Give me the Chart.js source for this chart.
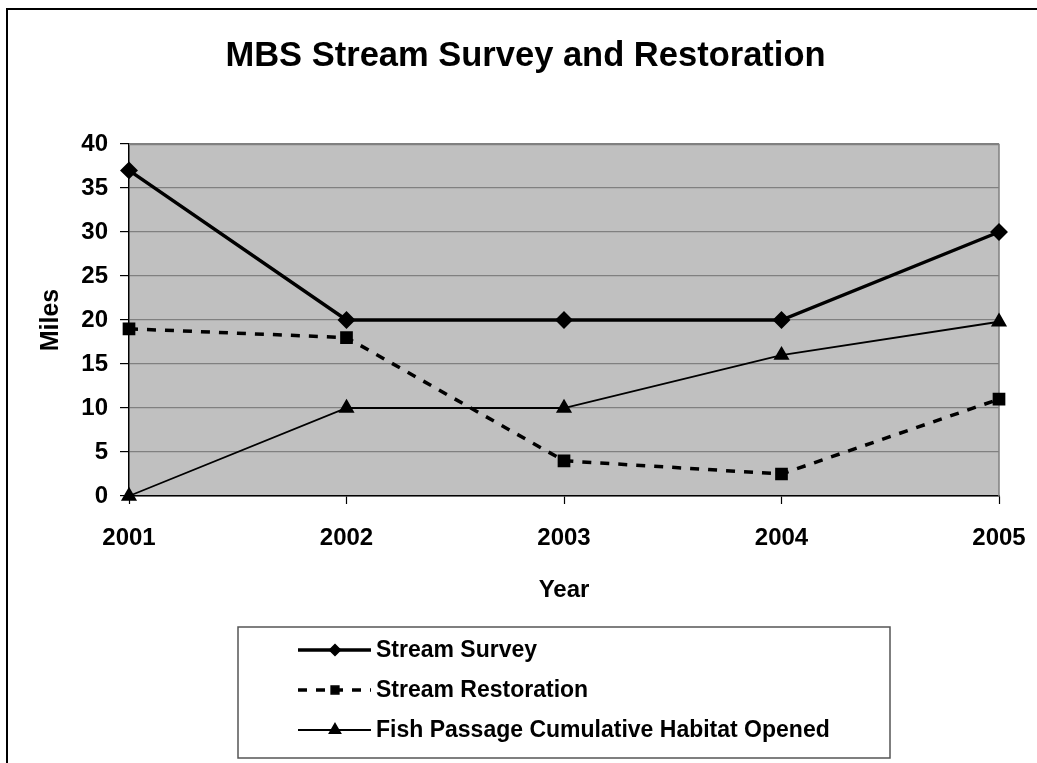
<!DOCTYPE html>
<html>
<head>
<meta charset="utf-8">
<script src="https://cdn.jsdelivr.net/npm/chart.js@4.4.1/dist/chart.umd.min.js"></script>
<style>
  html, body { margin: 0; padding: 0; background: #ffffff; }
  canvas { display: block; }
</style>
</head>
<body>
<canvas id="c" width="1037" height="763"></canvas>
<script>
const chartTitle = 'MBS Stream Survey and Restoration';
const years = ['2001', '2002', '2003', '2004', '2005'];
const streamSurvey = [37, 20, 20, 20, 30];
const streamRestoration = [19, 18, 4, 2.5, 11];
const fishPassage = [0, 10, 10, 16, 19.8];
const seriesNames = ['Stream Survey', 'Stream Restoration', 'Fish Passage Cumulative Habitat Opened'];
const yTitle = 'Miles';
const xTitle = 'Year';

const FONT = '"Liberation Sans", Arial, sans-serif';

const bgPlugin = {
  id: 'bgPlugin',
  beforeDraw(chart) {
    const { ctx, chartArea: a } = chart;
    ctx.save();
    ctx.fillStyle = '#ffffff';
    ctx.fillRect(0, 0, chart.width, chart.height);
    ctx.fillStyle = '#C0C0C0';
    ctx.fillRect(a.left, a.top, a.right - a.left, a.bottom - a.top);
    // outer frame
    ctx.strokeStyle = '#000000';
    ctx.lineWidth = 2;
    ctx.strokeRect(7, 9, chart.width + 20, chart.height + 20);
    // chart title
    ctx.fillStyle = '#000000';
    ctx.font = 'bold 34.5px ' + FONT;
    ctx.textAlign = 'center';
    ctx.textBaseline = 'middle';
    ctx.fillText(chartTitle, 525.5, 56);
    ctx.restore();
  },
  beforeDatasetsDraw(chart) {
    const { ctx, chartArea: a } = chart;
    ctx.save();
    ctx.strokeStyle = '#808080';
    ctx.lineWidth = 1.5;
    ctx.beginPath();
    ctx.moveTo(a.left, a.top + 0.5);
    ctx.lineTo(a.right, a.top + 0.5);
    ctx.lineTo(a.right, a.bottom);
    ctx.stroke();
    ctx.restore();
  }
};

const legendPlugin = {
  id: 'customLegend',
  afterDraw(chart) {
    const { ctx } = chart;
    ctx.save();
    ctx.strokeStyle = '#555555';
    ctx.lineWidth = 1.5;
    ctx.strokeRect(238, 627, 652, 131);
    const rowY = [650, 690, 730];
    const markerR = [5.5, 5.5, 6.5];
    chart.data.datasets.forEach((ds, i) => {
      const y = rowY[i];
      ctx.save();
      ctx.strokeStyle = ds.borderColor;
      ctx.lineWidth = ds.borderWidth;
      ctx.setLineDash(ds.borderDash || []);
      ctx.beginPath();
      ctx.moveTo(298, y);
      ctx.lineTo(371, y);
      ctx.stroke();
      ctx.restore();
      ctx.save();
      ctx.fillStyle = '#000000';
      ctx.strokeStyle = '#000000';
      ctx.setLineDash([]);
      Chart.helpers.drawPoint(ctx, {
        pointStyle: ds.pointStyle, radius: markerR[i], rotation: 0, borderWidth: 1
      }, 335, y);
      ctx.restore();
      ctx.fillStyle = '#000000';
      ctx.font = 'bold 23px ' + FONT;
      ctx.textBaseline = 'middle';
      ctx.textAlign = 'left';
      ctx.fillText(ds.label, 376, y + 1);
    });
    ctx.restore();
  }
};

Chart.defaults.font.family = FONT;
Chart.defaults.color = '#000000';

new Chart(document.getElementById('c'), {
  type: 'line',
  data: {
    labels: years,
    datasets: [
      {
        label: seriesNames[0], data: streamSurvey,
        borderColor: '#000000', backgroundColor: '#000000', borderWidth: 3.5,
        pointStyle: 'rectRot', pointRadius: 6.5, pointBackgroundColor: '#000000', pointBorderColor: '#000000',
        tension: 0, order: 1, clip: false
      },
      {
        label: seriesNames[1], data: streamRestoration,
        borderColor: '#000000', backgroundColor: '#000000', borderWidth: 3.5, borderDash: [9, 9],
        pointStyle: 'rect', pointRadius: 6.5, pointBackgroundColor: '#000000', pointBorderColor: '#000000',
        tension: 0, order: 2, clip: false
      },
      {
        label: seriesNames[2], data: fishPassage,
        borderColor: '#000000', backgroundColor: '#000000', borderWidth: 1.8,
        pointStyle: 'triangle', pointRadius: 7.5, pointBackgroundColor: '#000000', pointBorderColor: '#000000',
        tension: 0, order: 3, clip: false
      }
    ]
  },
  options: {
    responsive: false,
    animation: false,
    layout: { padding: { left: 0, right: 38, top: 144, bottom: 147 } },
    plugins: {
      legend: { display: false },
      tooltip: { enabled: false },
      title: { display: false }
    },
    scales: {
      x: {
        type: 'category',
        offset: false,
        afterFit(scale) {
          scale.height = 120;
          scale.paddingLeft = 0;
          scale.paddingRight = 0;
        },
        grid: { drawOnChartArea: false, drawTicks: true, tickLength: 8, tickColor: '#000000', tickWidth: 1.2 },
        border: { color: '#000000', width: 1.5 },
        ticks: { font: { size: 24, weight: 'bold', family: FONT }, color: '#000000', padding: 20, maxRotation: 0 },
        title: {
          display: true, text: xTitle, color: '#000000',
          font: { size: 24, weight: 'bold', family: FONT, lineHeight: 1.2 },
          padding: { top: 0, bottom: 11 }
        }
      },
      y: {
        min: 0, max: 40,
        afterFit(scale) {
          scale.width = 129;
          scale.paddingTop = 0;
          scale.paddingBottom = 0;
        },
        grid: { color: '#808080', lineWidth: 1.2, drawTicks: true, tickLength: 9, tickColor: '#000000', tickWidth: 1.2 },
        border: { color: '#000000', width: 1.5 },
        ticks: { stepSize: 5, font: { size: 24, weight: 'bold', family: FONT }, color: '#000000', padding: 12 },
        title: {
          display: true, text: yTitle, color: '#000000',
          font: { size: 25, weight: 'bold', family: FONT, lineHeight: 1.2 },
          padding: { top: 36, bottom: 0 }
        }
      }
    }
  },
  plugins: [bgPlugin, legendPlugin]
});
</script>
</body>
</html>
